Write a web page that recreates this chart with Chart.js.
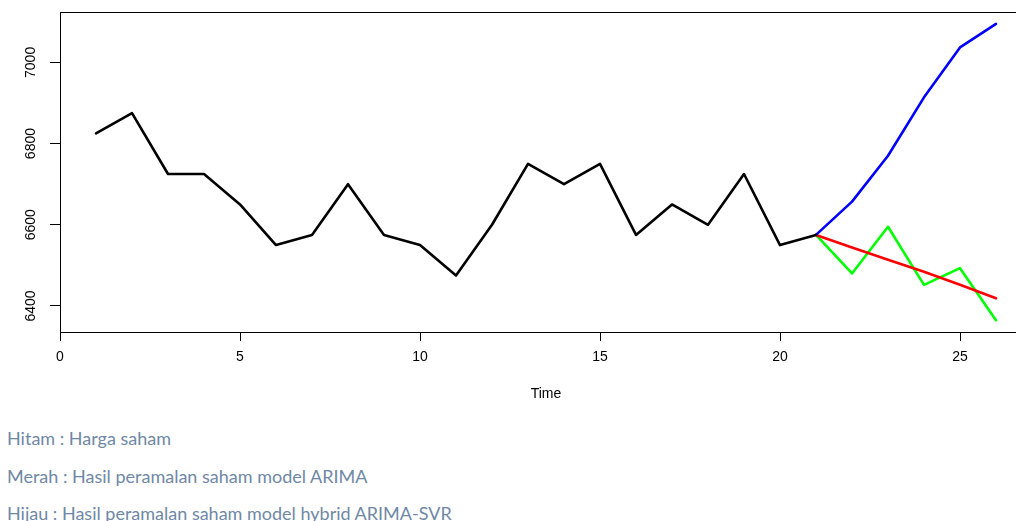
<!DOCTYPE html>
<html>
<head>
<meta charset="utf-8">
<script src="https://cdn.jsdelivr.net/npm/chart.js@4.4.1/dist/chart.umd.min.js"></script>
<style>
  body{ margin:0; background:#fff; width:1016px; height:521px; overflow:hidden; position:relative; }
  #wrap{ position:absolute; left:0; top:0; width:1016px; height:410px; overflow:hidden; }
  #notes{ position:absolute; left:7px; top:420px; font-family:Lato, "Open Sans", sans-serif; font-size:18px; color:#6f88a5; }
  #notes p{ margin:0; line-height:37.5px; white-space:nowrap; }
</style>
</head>
<body>
<div id="wrap"><canvas id="chart" width="1040" height="410"></canvas></div>
<div id="notes">
  <p>Hitam : Harga saham</p>
  <p>Merah : Hasil peramalan saham model ARIMA</p>
  <p>Hijau : Hasil peramalan saham model hybrid ARIMA-SVR</p>
</div>
<script>
// harga saham (hitam), t = 1..21
const hargaTime = [1,2,3,4,5,6,7,8,9,10,11,12,13,14,15,16,17,18,19,20,21];
const hargaSaham = [6825,6875,6725,6725,6650,6550,6575,6700,6575,6550,6475,6600,6750,6700,6750,6575,6650,6600,6725,6550,6575];

// peramalan, t = 21..26
const forecastTime = [21,22,23,24,25,26];
const biru = [6575,6657,6770,6914,7037,7095];
const arima = [6575,6544,6514,6484,6452,6419];
const hybrid = [6575,6480,6595,6452,6493,6365];

const xTicks = [0,5,10,15,20,25];
const yTicks = [6400,6600,6800,7000];

function pairs(xs, ys){
    return xs.map((x,i)=>({x:x, y:ys[i]}));
}

// R style range: data range + 4% each side
const allY = hargaSaham.concat(biru, arima, hybrid);
const allX = hargaTime.concat(forecastTime);
const yLo = Math.min(...allY), yHi = Math.max(...allY);
const xLo = Math.min(...allX), xHi = Math.max(...allX);
const yPad = (yHi-yLo)*0.04, xPad = (xHi-xLo)*0.04;

const tickFont = {family:"'Liberation Sans', Arial, sans-serif", size:14};

const boxPlugin = {
    id:"box",
    afterDatasetsDraw(chart){
        const a = chart.chartArea;
        const ctx = chart.ctx;
        ctx.save();
        ctx.strokeStyle = "#000";
        ctx.lineWidth = 1;
        ctx.strokeRect(Math.round(a.left)+0.5, Math.round(a.top)+0.5,
            Math.round(a.right-a.left), Math.round(a.bottom-a.top));
        ctx.restore();
    }
};

function line(label, xs, ys, color){
    return {
        label:label,
        data:pairs(xs, ys),
        borderColor:color,
        backgroundColor:color,
        borderWidth:2.6,
        pointRadius:0,
        tension:0,
        fill:false,
        borderJoinStyle:"round",
        borderCapStyle:"round"
    };
}

new Chart(document.getElementById("chart"),{

    type:"line",

    data:{
        datasets:[
            line("Harga saham", hargaTime, hargaSaham, "#000000"),
            line("Biru", forecastTime, biru, "#0000ff"),
            line("ARIMA", forecastTime, arima, "#ff0000"),
            line("Hybrid ARIMA-SVR", forecastTime, hybrid, "#00ff00")
        ]
    },

    options:{
        responsive:false,
        animation:false,
        layout:{ padding:{top:12, right:8, left:0, bottom:0} },
        plugins:{
            legend:{ display:false },
            tooltip:{ enabled:false }
        },
        scales:{
            x:{
                type:"linear",
                min:xLo-xPad,
                max:xHi+xPad,
                afterBuildTicks(s){ s.ticks = xTicks.map(v=>({value:v})); },
                afterFit(s){ s.height = 78; },
                border:{ display:false },
                grid:{ drawOnChartArea:false, drawTicks:true, tickLength:9, color:"#000", lineWidth:1 },
                ticks:{ font:tickFont, color:"#000", padding:8, maxRotation:0, callback:v=>String(v) },
                title:{ display:true, text:"Time", font:tickFont, color:"#000", padding:{top:0, bottom:7} }
            },
            y:{
                type:"linear",
                min:yLo-yPad,
                max:yHi+yPad,
                afterBuildTicks(s){ s.ticks = yTicks.map(v=>({value:v})); },
                afterFit(s){ s.width = 60; },
                border:{ display:false },
                grid:{ drawOnChartArea:false, drawTicks:true, tickLength:10, color:"#000", lineWidth:1 },
                ticks:{ font:tickFont, color:"#000", padding:3, minRotation:90, maxRotation:90, crossAlign:"center", callback:v=>String(v) }
            }
        }
    },

    plugins:[boxPlugin]

});
</script>
</body>
</html>
